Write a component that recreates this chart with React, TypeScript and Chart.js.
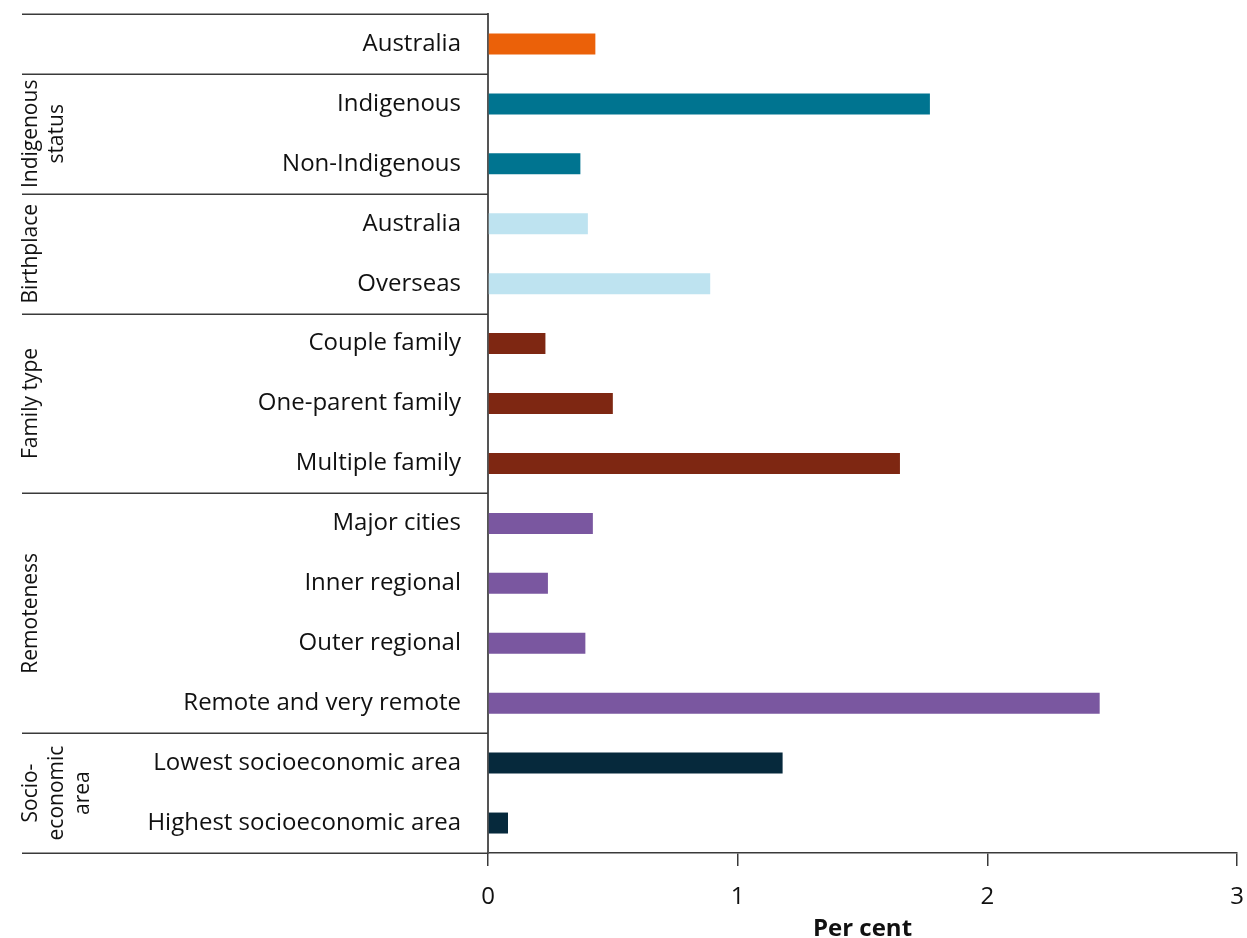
import React, { useEffect, useRef } from "react";
import { Chart, registerables } from "chart.js";

Chart.register(...registerables);

const categories = [
  "Australia",
  "Indigenous",
  "Non-Indigenous",
  "Australia",
  "Overseas",
  "Couple family",
  "One-parent family",
  "Multiple family",
  "Major cities",
  "Inner regional",
  "Outer regional",
  "Remote and very remote",
  "Lowest socioeconomic area",
  "Highest socioeconomic area",
];

const values = [0.43, 1.77, 0.37, 0.4, 0.89, 0.23, 0.5, 1.65, 0.42, 0.24, 0.39, 2.45, 1.18, 0.08];

// group index of each category
const groupOf = [0, 1, 1, 2, 2, 3, 3, 3, 4, 4, 4, 4, 5, 5];

const groupColors = ["#EB6109", "#007490", "#BEE3F0", "#7E2712", "#7A57A0", "#06293C"];

const groupLabels: string[][] = [
  [],
  ["Indigenous", "status"],
  ["Birthplace"],
  ["Family type"],
  ["Remoteness"],
  ["Socio-", "economic", "area"],
];

const xTicks = [0, 1, 2, 3];
const xTitle = "Per cent";

const FONT = "'Open Sans', 'Noto Sans', sans-serif";

export default function App() {
  const ref = useRef<HTMLCanvasElement | null>(null);

  useEffect(() => {
    if (!ref.current) return;

    const groupPlugin = {
      id: "groupPlugin",
      afterDraw(chart: any) {
        const { ctx, chartArea, scales } = chart;
        const y = scales.y;
        const n = categories.length;
        const centers = categories.map((_, i) => y.getPixelForValue(i));
        const boundaryBefore = (i: number) =>
          i === 0 ? chartArea.top : i === n ? chartArea.bottom : (centers[i - 1] + centers[i]) / 2;
        const left = 22;
        ctx.save();
        const starts: number[] = [];
        for (let i = 0; i < n; i++) {
          if (i === 0 || groupOf[i] !== groupOf[i - 1]) starts.push(i);
        }
        starts.push(n);
        ctx.strokeStyle = "#3a3a3a";
        ctx.lineWidth = 1.5;
        starts.forEach((i) => {
          const yy = Math.round(boundaryBefore(i)) + 0.25;
          ctx.beginPath();
          ctx.moveTo(left, yy);
          ctx.lineTo(chartArea.left, yy);
          ctx.stroke();
        });
        ctx.fillStyle = "#111";
        ctx.font = `21px ${FONT}`;
        ctx.textAlign = "center";
        ctx.textBaseline = "middle";
        for (let g = 0; g < starts.length - 1; g++) {
          const s = starts[g];
          const e = starts[g + 1];
          const gi = groupOf[s];
          const lines = groupLabels[gi];
          if (!lines.length) continue;
          const cy = (boundaryBefore(s) + boundaryBefore(e)) / 2;
          lines.forEach((txt, k) => {
            const cx = 31 + k * 26;
            ctx.save();
            ctx.translate(cx, cy);
            ctx.rotate(-Math.PI / 2);
            ctx.fillText(txt, 0, 0);
            ctx.restore();
          });
        }
        ctx.restore();
      },
    };

    const chart = new Chart(ref.current, {
      type: "bar",
      data: {
        labels: categories,
        datasets: [
          {
            data: values,
            backgroundColor: groupOf.map((g) => groupColors[g]),
            barPercentage: 0.35,
            categoryPercentage: 1,
          },
        ],
      },
      options: {
        indexAxis: "y",
        animation: false,
        responsive: true,
        maintainAspectRatio: false,
        layout: { padding: { left: 0, right: 10, top: 14, bottom: 0 } },
        plugins: {
          legend: { display: false },
          tooltip: { enabled: false },
        },
        scales: {
          x: {
            min: 0,
            max: 3,
            afterBuildTicks: (axis: any) => {
              axis.ticks = xTicks.map((v) => ({ value: v }));
            },
            afterFit: (axis: any) => {
              axis.height = 85;
              axis.paddingLeft = 0;
              axis.paddingRight = 0;
            },
            grid: {
              drawOnChartArea: false,
              drawTicks: true,
              tickLength: 13,
              color: "#3a3a3a",
              lineWidth: 1.5,
            },
            border: { display: true, color: "#3a3a3a", width: 1.5 },
            ticks: {
              padding: 17,
              color: "#111",
              font: { family: FONT, size: 24 },
            },
            title: {
              display: true,
              text: xTitle,
              color: "#111",
              font: { family: FONT, size: 24, weight: "bold" },
              padding: { top: 0, bottom: -6 },
            },
          },
          y: {
            afterFit: (axis: any) => {
              axis.width = 488;
              axis.paddingTop = 0;
              axis.paddingBottom = 0;
            },
            grid: { display: true, drawOnChartArea: false, drawTicks: false },
            border: { display: true, color: "#555", width: 2 },
            ticks: {
              padding: 27,
              color: "#111",
              font: { family: FONT, size: 24 },
              autoSkip: false,
            },
          },
        },
      },
      plugins: [groupPlugin],
    });

    return () => chart.destroy();
  }, []);

  return (
    <div style={{ position: "absolute", left: 0, top: 0, width: 1247, height: 938, background: "#fff" }}>
      <canvas ref={ref} />
    </div>
  );
}
